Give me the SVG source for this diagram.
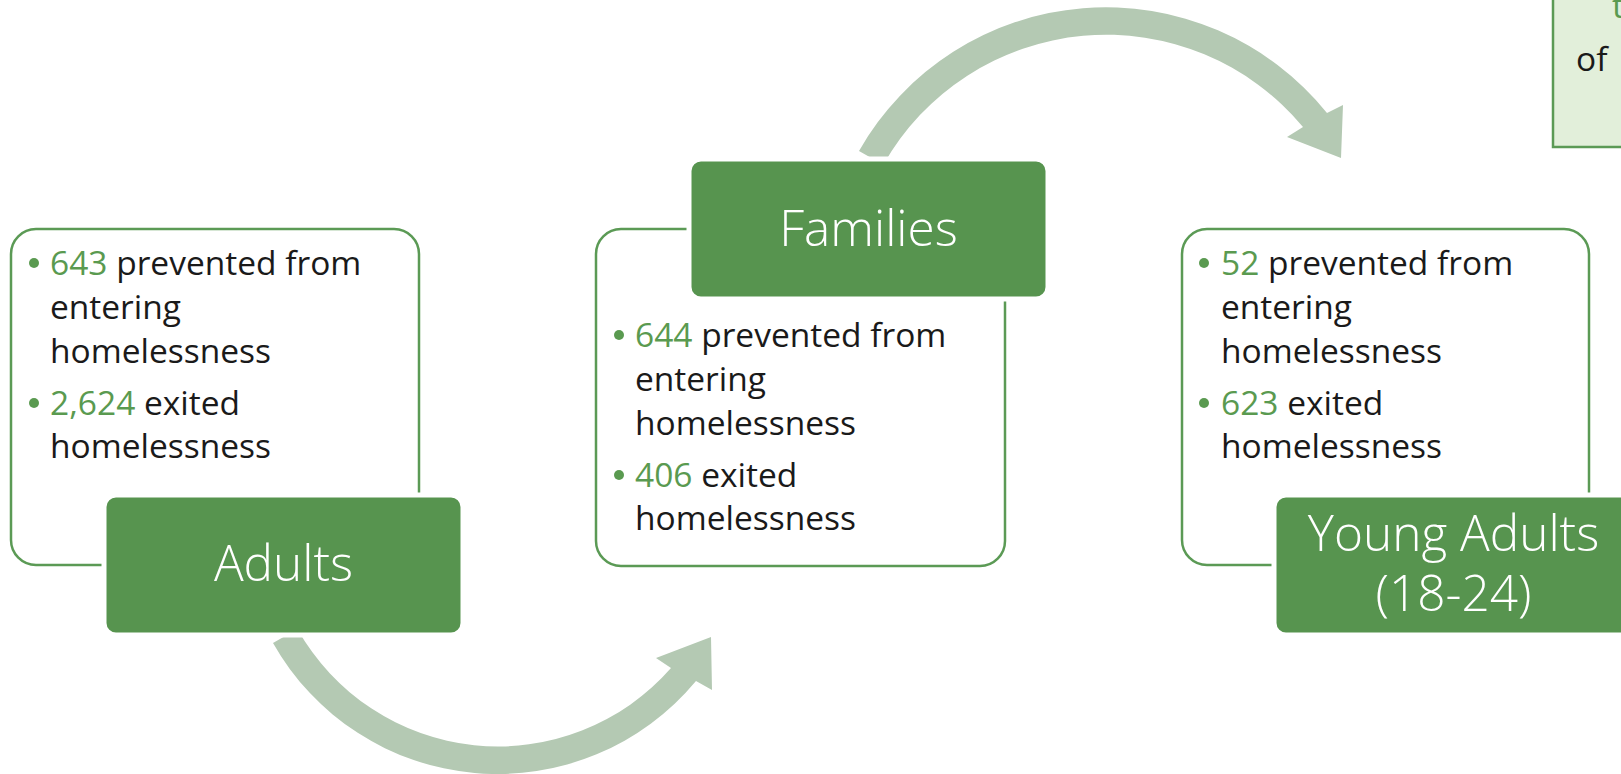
<svg xmlns="http://www.w3.org/2000/svg" width="1621" height="774" viewBox="0 0 1621 774">
<style>
.bg{fill:#ffffff}
.arrow{fill:#b4c9b3}
.panel{fill:#ffffff;stroke:#5b9a55;stroke-width:2.5}
.head{fill:#57944f;stroke:#ffffff;stroke-width:5}
.htxt{font-family:"Open Sans","Liberation Sans",sans-serif;font-size:49.5px;font-weight:300;fill:#ffffff;text-anchor:middle}
.body{font-family:"Open Sans","Liberation Sans",sans-serif;font-size:33.5px;font-weight:400;fill:#1a1a1a}
.num{fill:#5a9a50}
.dot{fill:#5a9a50}
.note{fill:#e2efda;stroke:#5b9a55;stroke-width:2.5}
</style>
<rect class="bg" x="0" y="0" width="1621" height="774"/>

<g id="connectors">
  <path class="arrow" d="M 273,643 A 258 258 0 0 0 696,681 L 712,690 L 711,637 L 656,658 L 671,668 A 230 230 0 0 1 297.4,629 Z"/>
  <path class="arrow" d="M 859,151 A 284 284 0 0 1 1327,113 L 1343,105 L 1341,158 L 1287,137 L 1303,127 A 256 256 0 0 0 883.3,164.8 Z"/>
</g>

<g id="note-box">
  <rect class="note" x="1553" y="-10" width="100" height="157"/>
  <text class="body" x="1576" y="71">of</text>
  <text class="body num" x="1612" y="18">t</text>
</g>

<g id="adults">
  <rect class="panel" x="11" y="229" width="408" height="336" rx="25"/>
  <circle class="dot" cx="34" cy="263" r="5"/>
  <text class="body" x="50" y="275"><tspan class="num">643</tspan> prevented from</text>
  <text class="body" x="50" y="319">entering</text>
  <text class="body" x="50" y="363">homelessness</text>
  <circle class="dot" cx="34" cy="403" r="5"/>
  <text class="body" x="50" y="415"><tspan class="num">2,624</tspan> exited</text>
  <text class="body" x="50" y="458">homelessness</text>
  <rect class="head" x="104" y="495" width="359" height="140" rx="12"/>
  <text class="htxt" x="283.5" y="581">Adults</text>
</g>

<g id="families">
  <rect class="panel" x="596" y="229" width="409" height="337" rx="25"/>
  <rect class="head" x="689" y="159" width="359" height="140" rx="12"/>
  <text class="htxt" x="868.5" y="246">Families</text>
  <circle class="dot" cx="619" cy="335" r="5"/>
  <text class="body" x="635" y="347"><tspan class="num">644</tspan> prevented from</text>
  <text class="body" x="635" y="391">entering</text>
  <text class="body" x="635" y="435">homelessness</text>
  <circle class="dot" cx="619" cy="475" r="5"/>
  <text class="body" x="635" y="487"><tspan class="num">406</tspan> exited</text>
  <text class="body" x="635" y="530">homelessness</text>
</g>

<g id="young-adults">
  <rect class="panel" x="1182" y="229" width="407" height="336" rx="25"/>
  <circle class="dot" cx="1204" cy="263" r="5"/>
  <text class="body" x="1221" y="275"><tspan class="num">52</tspan> prevented from</text>
  <text class="body" x="1221" y="319">entering</text>
  <text class="body" x="1221" y="363">homelessness</text>
  <circle class="dot" cx="1204" cy="403" r="5"/>
  <text class="body" x="1221" y="415"><tspan class="num">623</tspan> exited</text>
  <text class="body" x="1221" y="458">homelessness</text>
  <rect class="head" x="1274" y="495" width="359" height="140" rx="12"/>
  <text class="htxt" x="1453.5" y="551">Young Adults</text>
  <text class="htxt" x="1453.5" y="611">(18-24)</text>
</g>
</svg>
